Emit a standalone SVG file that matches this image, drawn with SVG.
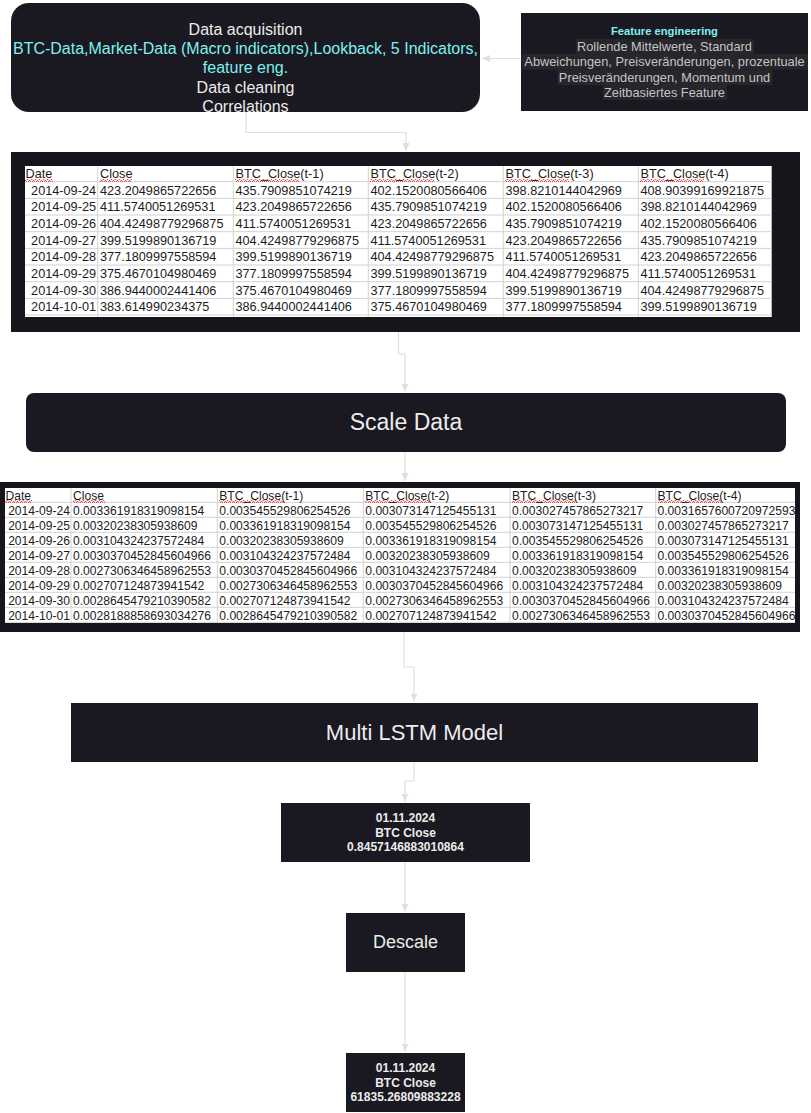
<svg xmlns="http://www.w3.org/2000/svg" width="811" height="1113" viewBox="0 0 811 1113">
<style>
.box{fill:#1a1820}
.frame{fill:#16151b}
.wt{font-family:"Liberation Sans",Arial,sans-serif;fill:#ececec;text-anchor:middle}
.cy{fill:#7ff0f0}
.grey{fill:#c4c4c4}
.hl{fill:#26262b}
.bd{font-weight:bold}
.tb{font-family:"Liberation Sans",Arial,sans-serif;fill:#1c1c1c}
.t1{font-size:12.7px}
.t2{font-size:12.1px}
.end{text-anchor:end}
.grid{stroke:#d2d2d2;stroke-width:1;fill:none}
.conn{stroke:#e0e0e0;stroke-width:1.2;fill:none}
.sq{fill:url(#squig)}
</style>
<defs>
<marker id="arr" markerUnits="userSpaceOnUse" markerWidth="10" markerHeight="8" refX="8" refY="3.5" orient="auto">
<path d="M0,0 L8,3.5 L0,7 z" fill="#e0e0e0"/>
</marker>
<pattern id="squig" patternUnits="userSpaceOnUse" width="4" height="3">
<path d="M0,2.5 L1,0.5 L2,0.5 L3,2.5 L4,2.5" stroke="#e03030" stroke-width="0.8" fill="none"/>
</pattern>
<clipPath id="clip2"><rect x="5" y="488" width="793" height="135"/></clipPath>
</defs>
<rect width="811" height="1113" fill="#ffffff"/>

<g id="connectors">
<path class="conn" d="M520,58.5 H482" marker-end="url(#arr)"/>
<path class="conn" d="M246,112 V132.5 H406 V151" marker-end="url(#arr)"/>
<path class="conn" d="M398.5,318 V354 H405 V391.5" marker-end="url(#arr)"/>
<path class="conn" d="M405,452 V481" marker-end="url(#arr)"/>
<path class="conn" d="M404,632 V667 H414 V701.5" marker-end="url(#arr)"/>
<path class="conn" d="M414,762 V781 H405 V801.5" marker-end="url(#arr)"/>
<path class="conn" d="M405,862 V911.5" marker-end="url(#arr)"/>
<path class="conn" d="M405,972 V1051.5" marker-end="url(#arr)"/>
</g>

<g id="data-acquisition">
<rect class="box" x="11" y="3" width="469" height="109" rx="18"/>
<text class="wt" x="245.5" y="35" font-size="16">Data acquisition</text>
<text class="wt cy" x="245.5" y="54.2" font-size="16">BTC-Data,Market-Data (Macro indicators),Lookback, 5 Indicators,</text>
<text class="wt cy" x="245.5" y="73.4" font-size="16">feature eng.</text>
<text class="wt" x="245.5" y="92.6" font-size="16">Data cleaning</text>
<text class="wt" x="245.5" y="111.5" font-size="16">Correlations</text>
</g>

<g id="feature-engineering">
<rect class="box" x="521" y="13" width="287" height="98"/>
<rect class="hl" x="576" y="39" width="178" height="15"/>
<rect class="hl" x="521.5" y="54" width="286.5" height="15.5"/>
<rect class="hl" x="557.5" y="69.5" width="215" height="15.5"/>
<rect class="hl" x="603" y="85" width="124" height="15"/>
<text class="wt cy bd" x="664.5" y="34.7" font-size="11.2">Feature engineering</text>
<text class="wt grey" x="664.5" y="50.8" font-size="12.8">Rollende Mittelwerte, Standard</text>
<text class="wt grey" x="664.5" y="65.8" font-size="12.8">Abweichungen, Preisveränderungen, prozentuale</text>
<text class="wt grey" x="664.5" y="81.8" font-size="12.8">Preisveränderungen, Momentum und</text>
<text class="wt grey" x="664.5" y="96.8" font-size="12.8">Zeitbasiertes Feature</text>
</g>

<g id="table-raw">
<rect class="frame" x="11" y="152" width="789" height="180"/>
<rect x="25" y="166" width="746.7" height="151" fill="#ffffff"/>
<path class="grid" d="M25,181.7 H771.7 M25,198.4 H771.7 M25,215 H771.7 M25,231.7 H771.7 M25,248.4 H771.7 M25,265 H771.7 M25,281.7 H771.7 M25,298.4 H771.7 M25,315 H771.7 M97.7,166 V317 M233.3,166 V317 M368.3,166 V317 M503.3,166 V317 M638.3,166 V317"/>
<rect class="sq" x="25" y="179" width="28" height="3"/>
<rect class="sq" x="100" y="179" width="32" height="3"/>
<rect class="sq" x="235" y="179" width="64" height="3"/>
<rect class="sq" x="370" y="179" width="64" height="3"/>
<rect class="sq" x="505" y="179" width="64" height="3"/>
<rect class="sq" x="640" y="179" width="64" height="3"/>
<g class="tb t1">
<text x="25.5" y="178.3">Date</text><text x="100" y="178.3">Close</text><text x="235.5" y="178.3">BTC_Close(t-1)</text><text x="370.5" y="178.3">BTC_Close(t-2)</text><text x="505.5" y="178.3">BTC_Close(t-3)</text><text x="640.5" y="178.3">BTC_Close(t-4)</text>
<text class="end" x="96" y="194.5">2014-09-24</text><text x="100" y="194.5">423.2049865722656</text><text x="235.5" y="194.5">435.7909851074219</text><text x="370.5" y="194.5">402.1520080566406</text><text x="505.5" y="194.5">398.8210144042969</text><text x="640.5" y="194.5">408.90399169921875</text>
<text class="end" x="96" y="211.2">2014-09-25</text><text x="100" y="211.2">411.5740051269531</text><text x="235.5" y="211.2">423.2049865722656</text><text x="370.5" y="211.2">435.7909851074219</text><text x="505.5" y="211.2">402.1520080566406</text><text x="640.5" y="211.2">398.8210144042969</text>
<text class="end" x="96" y="227.8">2014-09-26</text><text x="100" y="227.8">404.42498779296875</text><text x="235.5" y="227.8">411.5740051269531</text><text x="370.5" y="227.8">423.2049865722656</text><text x="505.5" y="227.8">435.7909851074219</text><text x="640.5" y="227.8">402.1520080566406</text>
<text class="end" x="96" y="244.5">2014-09-27</text><text x="100" y="244.5">399.5199890136719</text><text x="235.5" y="244.5">404.42498779296875</text><text x="370.5" y="244.5">411.5740051269531</text><text x="505.5" y="244.5">423.2049865722656</text><text x="640.5" y="244.5">435.7909851074219</text>
<text class="end" x="96" y="261.2">2014-09-28</text><text x="100" y="261.2">377.1809997558594</text><text x="235.5" y="261.2">399.5199890136719</text><text x="370.5" y="261.2">404.42498779296875</text><text x="505.5" y="261.2">411.5740051269531</text><text x="640.5" y="261.2">423.2049865722656</text>
<text class="end" x="96" y="277.8">2014-09-29</text><text x="100" y="277.8">375.4670104980469</text><text x="235.5" y="277.8">377.1809997558594</text><text x="370.5" y="277.8">399.5199890136719</text><text x="505.5" y="277.8">404.42498779296875</text><text x="640.5" y="277.8">411.5740051269531</text>
<text class="end" x="96" y="294.5">2014-09-30</text><text x="100" y="294.5">386.9440002441406</text><text x="235.5" y="294.5">375.4670104980469</text><text x="370.5" y="294.5">377.1809997558594</text><text x="505.5" y="294.5">399.5199890136719</text><text x="640.5" y="294.5">404.42498779296875</text>
<text class="end" x="96" y="311.2">2014-10-01</text><text x="100" y="311.2">383.614990234375</text><text x="235.5" y="311.2">386.9440002441406</text><text x="370.5" y="311.2">375.4670104980469</text><text x="505.5" y="311.2">377.1809997558594</text><text x="640.5" y="311.2">399.5199890136719</text>
</g>
</g>

<g id="scale-data">
<rect class="box" x="26" y="393" width="760" height="59" rx="8"/>
<text class="wt" x="406" y="429.8" font-size="23">Scale Data</text>
</g>

<g id="table-scaled">
<rect class="frame" x="0" y="482" width="800" height="150"/>
<rect x="5" y="488" width="790" height="135" fill="#ffffff"/>
<path class="grid" d="M5,502.3 H795 M5,517.3 H795 M5,532.3 H795 M5,547.3 H795 M5,562.3 H795 M5,577.3 H795 M5,592.3 H795 M5,607.3 H795 M5,622.3 H795 M71,488 V623 M217.3,488 V623 M363.3,488 V623 M510,488 V623 M655.7,488 V623"/>
<rect class="sq" x="5" y="500" width="27" height="3"/>
<rect class="sq" x="73" y="500" width="32" height="3"/>
<rect class="sq" x="219" y="500" width="64" height="3"/>
<rect class="sq" x="365" y="500" width="64" height="3"/>
<rect class="sq" x="512" y="500" width="64" height="3"/>
<rect class="sq" x="658" y="500" width="64" height="3"/>
<g class="tb t2" clip-path="url(#clip2)">
<text x="5.5" y="499.5">Date</text><text x="73" y="499.5">Close</text><text x="219.3" y="499.5">BTC_Close(t-1)</text><text x="365.3" y="499.5">BTC_Close(t-2)</text><text x="512" y="499.5">BTC_Close(t-3)</text><text x="657.5" y="499.5">BTC_Close(t-4)</text>
<text class="end" x="70" y="514.5">2014-09-24</text><text x="73" y="514.5">0.003361918319098154</text><text x="219.3" y="514.5">0.003545529806254526</text><text x="365.3" y="514.5">0.003073147125455131</text><text x="512" y="514.5">0.003027457865273217</text><text x="657.5" y="514.5">0.0031657600720972593</text>
<text class="end" x="70" y="529.5">2014-09-25</text><text x="73" y="529.5">0.00320238305938609</text><text x="219.3" y="529.5">0.003361918319098154</text><text x="365.3" y="529.5">0.003545529806254526</text><text x="512" y="529.5">0.003073147125455131</text><text x="657.5" y="529.5">0.003027457865273217</text>
<text class="end" x="70" y="544.5">2014-09-26</text><text x="73" y="544.5">0.003104324237572484</text><text x="219.3" y="544.5">0.00320238305938609</text><text x="365.3" y="544.5">0.003361918319098154</text><text x="512" y="544.5">0.003545529806254526</text><text x="657.5" y="544.5">0.003073147125455131</text>
<text class="end" x="70" y="559.5">2014-09-27</text><text x="73" y="559.5">0.0030370452845604966</text><text x="219.3" y="559.5">0.003104324237572484</text><text x="365.3" y="559.5">0.00320238305938609</text><text x="512" y="559.5">0.003361918319098154</text><text x="657.5" y="559.5">0.003545529806254526</text>
<text class="end" x="70" y="574.5">2014-09-28</text><text x="73" y="574.5">0.0027306346458962553</text><text x="219.3" y="574.5">0.0030370452845604966</text><text x="365.3" y="574.5">0.003104324237572484</text><text x="512" y="574.5">0.00320238305938609</text><text x="657.5" y="574.5">0.003361918319098154</text>
<text class="end" x="70" y="589.5">2014-09-29</text><text x="73" y="589.5">0.002707124873941542</text><text x="219.3" y="589.5">0.0027306346458962553</text><text x="365.3" y="589.5">0.0030370452845604966</text><text x="512" y="589.5">0.003104324237572484</text><text x="657.5" y="589.5">0.00320238305938609</text>
<text class="end" x="70" y="604.5">2014-09-30</text><text x="73" y="604.5">0.0028645479210390582</text><text x="219.3" y="604.5">0.002707124873941542</text><text x="365.3" y="604.5">0.0027306346458962553</text><text x="512" y="604.5">0.0030370452845604966</text><text x="657.5" y="604.5">0.003104324237572484</text>
<text class="end" x="70" y="619.5">2014-10-01</text><text x="73" y="619.5">0.0028188858693034276</text><text x="219.3" y="619.5">0.0028645479210390582</text><text x="365.3" y="619.5">0.002707124873941542</text><text x="512" y="619.5">0.0027306346458962553</text><text x="657.5" y="619.5">0.0030370452845604966</text>
</g>
</g>

<g id="multi-lstm">
<rect class="box" x="71" y="703" width="687" height="59"/>
<text class="wt" x="414.5" y="739.5" font-size="22">Multi LSTM Model</text>
</g>

<g id="prediction-scaled">
<rect class="box" x="281" y="803" width="249" height="59"/>
<text class="wt bd" x="405.5" y="822" font-size="12">01.11.2024</text>
<text class="wt bd" x="405.5" y="836.5" font-size="12">BTC Close</text>
<text class="wt bd" x="405.5" y="851" font-size="12">0.8457146883010864</text>
</g>

<g id="descale">
<rect class="box" x="346" y="913" width="119" height="59"/>
<text class="wt" x="405.5" y="948" font-size="18">Descale</text>
</g>

<g id="prediction-price">
<rect class="box" x="346" y="1053" width="119" height="59"/>
<text class="wt bd" x="405.5" y="1072" font-size="12">01.11.2024</text>
<text class="wt bd" x="405.5" y="1086.5" font-size="12">BTC Close</text>
<text class="wt bd" x="405.5" y="1101" font-size="12">61835.26809883228</text>
</g>
</svg>
